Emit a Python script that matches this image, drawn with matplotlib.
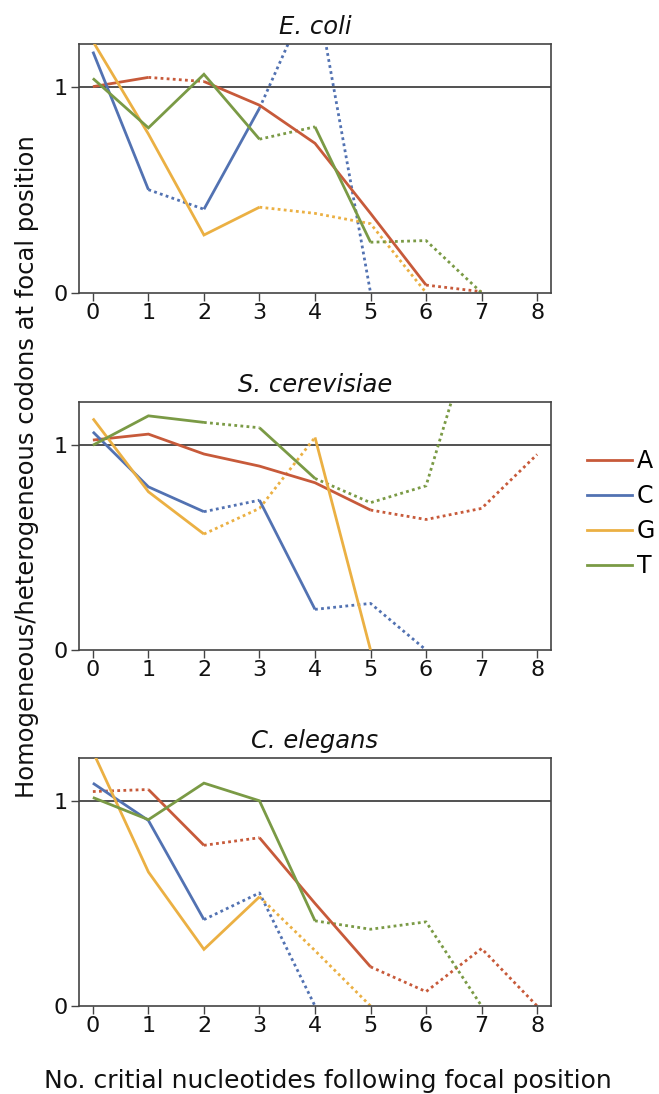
import matplotlib
matplotlib.use("Agg")
import matplotlib.pyplot as plt
from matplotlib.lines import Line2D

plt.rcParams['font.family'] = ['DejaVu Sans']

species = ["E. coli", "S. cerevisiae", "C. elegans"]
nucleotides = ["A", "C", "G", "T"]
colors = {"A": "#C75A3A", "C": "#5272B2", "G": "#EBB043", "T": "#7A9A45"}

# values at x = 0,1,2,...; sig = 1 -> solid segment, 0 -> dotted segment
ecoli_A = [1.00, 1.045, 1.025, 0.91, 0.725, 0.385, 0.037, 0.005]
ecoli_A_sig = [1, 0, 1, 1, 1, 1, 0]
ecoli_C = [1.17, 0.50, 0.405, 0.895, 1.50, 0.0]
ecoli_C_sig = [1, 0, 1, 0, 0]
ecoli_G = [1.22, 0.77, 0.28, 0.415, 0.385, 0.335, 0.0]
ecoli_G_sig = [1, 1, 1, 0, 0, 0]
ecoli_T = [1.04, 0.80, 1.06, 0.745, 0.805, 0.245, 0.253, 0.0]
ecoli_T_sig = [1, 1, 1, 0, 1, 0, 0]

scer_A = [1.023, 1.052, 0.955, 0.896, 0.815, 0.682, 0.636, 0.69, 0.953]
scer_A_sig = [1, 1, 1, 1, 1, 0, 0, 0]
scer_C = [1.063, 0.795, 0.674, 0.73, 0.198, 0.227, 0.0]
scer_C_sig = [1, 1, 0, 1, 0, 0]
scer_G = [1.128, 0.771, 0.565, 0.69, 1.036, 0.0]
scer_G_sig = [1, 1, 0, 0, 1]
scer_T = [0.998, 1.141, 1.109, 1.083, 0.836, 0.718, 0.80, 1.70]
scer_T_sig = [1, 1, 0, 1, 0, 0, 0]

cele_A = [1.045, 1.055, 0.783, 0.82, 0.50, 0.191, 0.07, 0.28, 0.0]
cele_A_sig = [0, 1, 0, 1, 1, 0, 0, 0]
cele_C = [1.086, 0.904, 0.421, 0.551, 0.0]
cele_C_sig = [1, 1, 0, 0]
cele_G = [1.24, 0.653, 0.276, 0.532, 0.27, 0.0]
cele_G_sig = [1, 1, 1, 0, 0]
cele_T = [1.016, 0.908, 1.086, 1.0, 0.415, 0.374, 0.41, 0.0]
cele_T_sig = [1, 1, 1, 1, 0, 0, 0]

data = {
    "E. coli": {"A": (ecoli_A, ecoli_A_sig), "C": (ecoli_C, ecoli_C_sig),
                "G": (ecoli_G, ecoli_G_sig), "T": (ecoli_T, ecoli_T_sig)},
    "S. cerevisiae": {"A": (scer_A, scer_A_sig), "C": (scer_C, scer_C_sig),
                      "G": (scer_G, scer_G_sig), "T": (scer_T, scer_T_sig)},
    "C. elegans": {"A": (cele_A, cele_A_sig), "C": (cele_C, cele_C_sig),
                   "G": (cele_G, cele_G_sig), "T": (cele_T, cele_T_sig)},
}
x_ticks = list(range(9))
y_ticks = [0, 1]

W, H = 659, 1094
fig = plt.figure(figsize=(W / 100, H / 100), dpi=100)

left_px, right_px = 79, 551
panels_px = [(44, 292.7), (402.3, 650), (758.3, 1006)]

for sp, (top, bot) in zip(species, panels_px):
    ax = fig.add_axes([left_px / W, 1 - bot / H, (right_px - left_px) / W, (bot - top) / H])
    ax.axhline(1, color="#222222", lw=1.1, zorder=1)
    for nt in nucleotides:
        vals, sig = data[sp][nt]
        xs = list(range(len(vals)))
        i = 0
        while i < len(sig):
            j = i
            while j + 1 < len(sig) and sig[j + 1] == sig[i]:
                j += 1
            seg_x = xs[i:j + 2]
            seg_y = vals[i:j + 2]
            if sig[i]:
                ax.plot(seg_x, seg_y, color=colors[nt], lw=2.0, solid_joinstyle="miter",
                        solid_capstyle="butt", zorder=3)
            else:
                ax.plot(seg_x, seg_y, color=colors[nt], lw=2.0, linestyle=(0, (1, 1.2)),
                        dash_capstyle="butt", zorder=2)
            i = j + 1
    ax.set_xlim(-0.25, 8.25)
    ax.set_ylim(0, 1.207)
    ax.set_xticks(x_ticks)
    ax.set_yticks(y_ticks)
    ax.set_xticklabels([str(t) for t in x_ticks])
    ax.set_yticklabels([str(t) for t in y_ticks])
    ax.tick_params(axis="both", direction="out", length=6, width=1.0, color="#444444",
                   labelsize=16, labelcolor="#111111")
    ax.tick_params(axis="x", pad=1.5)
    ax.tick_params(axis="y", pad=2)
    for s in ax.spines.values():
        s.set_color("#444444")
        s.set_linewidth(1.2)
    ax.set_title(sp, fontsize=17.5, style="italic", pad=7.5, color="#111111")

handles = [Line2D([0], [0], color=colors[nt], lw=2.0) for nt in nucleotides]
fig.legend(handles, nucleotides, loc="upper left",
           bbox_to_anchor=(587 / W, 1 - 449 / H), frameon=False, borderaxespad=0,
           borderpad=0, handlelength=1.9, handletextpad=0.2, labelspacing=0.47,
           fontsize=17)

fig.text(27 / W, 1 - 467 / H, "Homogeneous/heterogeneous codons at focal position",
         rotation=90, ha="center", va="center", fontsize=17.5, color="#111111")
fig.text(328 / W, 1 - 1088 / H, "No. critial nucleotides following focal position",
         ha="center", va="baseline", fontsize=18, color="#111111")

fig.savefig("out.png", dpi=100)
